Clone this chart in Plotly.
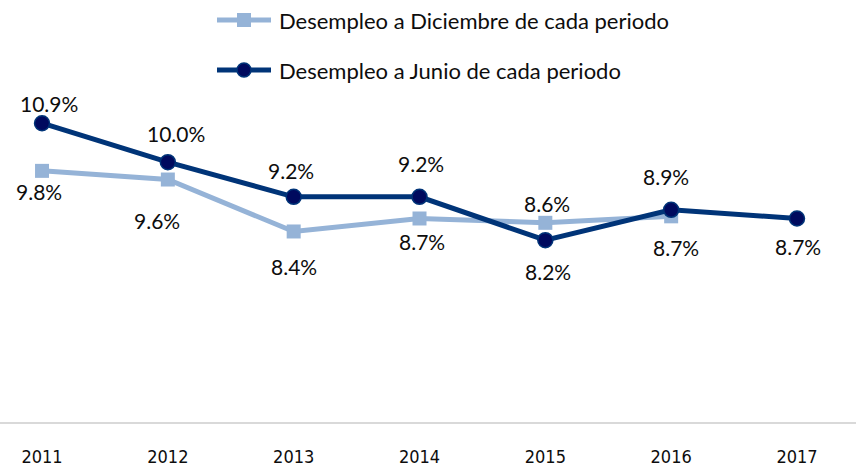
import plotly.graph_objects as go

years = ["2011", "2012", "2013", "2014", "2015", "2016", "2017"]
dic_years = ["2011", "2012", "2013", "2014", "2015", "2016"]
dic_values = [9.8, 9.6, 8.4, 8.7, 8.6, 8.75]
dic_labels = ["9.8%", "9.6%", "8.4%", "8.7%", "8.6%", "8.7%"]
jun_values = [10.9, 10.0, 9.2, 9.2, 8.2, 8.9, 8.7]
jun_labels = ["10.9%", "10.0%", "9.2%", "9.2%", "8.2%", "8.9%", "8.7%"]
dic_name = "Desempleo a Diciembre de cada periodo"
jun_name = "Desempleo a Junio de cada periodo"

# label offsets in pixels (style)
dic_shift = [(-3, -21), (-11, -41), (0, -35), (2, -23), (2, 19), (5, -31)]
jun_shift = [(7, 20), (8, 29), (-3, 26), (1, 33), (3, -31), (-5, 33), (1, -28)]

LIGHT = "#95b3d7"
DARK = "#003478"
DARK_FILL = "#000a5e"
FONT = "Lato"
TICKFONT = "'Liberation Sans Narrow', 'DejaVu Sans Condensed', 'Arial Narrow', sans-serif"
TXT = "#0d0d0d"

W, H = 856, 469
PLOT_H = 422  # plot area height (t=0)

fig = go.Figure()
fig.add_trace(go.Scatter(
    x=dic_years, y=dic_values, mode="lines+markers", name=dic_name,
    line=dict(color=LIGHT, width=5),
    marker=dict(symbol="square", size=14, color=LIGHT),
    showlegend=False, cliponaxis=False,
))
fig.add_trace(go.Scatter(
    x=years, y=jun_values, mode="lines+markers", name=jun_name,
    line=dict(color=DARK, width=5),
    marker=dict(symbol="circle", size=15, color=DARK_FILL, line=dict(color=DARK, width=1.5)),
    showlegend=False, cliponaxis=False,
))

for i, (v, t, (dx, dy)) in enumerate(zip(dic_values, dic_labels, dic_shift)):
    fig.add_annotation(x=i, y=v, xref="x", yref="y", text=t, showarrow=False,
                       xshift=dx, yshift=dy, font=dict(family=FONT, size=21, color=TXT))
for i, (v, t, (dx, dy)) in enumerate(zip(jun_values, jun_labels, jun_shift)):
    fig.add_annotation(x=i, y=v, xref="x", yref="y", text=t, showarrow=False,
                       xshift=dx, yshift=dy, font=dict(family=FONT, size=21, color=TXT))

# manual legend
def py(ypx):
    return 1 - ypx / PLOT_H

legend_items = [
    (dic_name, 20, LIGHT, LIGHT, "rect"),
    (jun_name, 70, DARK, DARK_FILL, "circle"),
]
for name, ypx, lc, fc, sym in legend_items:
    fig.add_shape(type="line", xref="paper", yref="paper",
                  x0=217 / W, x1=271 / W, y0=py(ypx), y1=py(ypx),
                  line=dict(color=lc, width=5))
    fig.add_shape(type=sym, xref="paper", yref="paper",
                  xsizemode="pixel", ysizemode="pixel",
                  xanchor=244 / W, yanchor=py(ypx),
                  x0=-7, x1=7, y0=-7, y1=7,
                  fillcolor=fc, line=dict(color=lc, width=1.5 if sym == "circle" else 0))
    fig.add_annotation(xref="paper", yref="paper", x=277 / W, y=py(ypx),
                       xanchor="left", yanchor="middle", text=name, showarrow=False,
                       font=dict(family=FONT, size=22, color=TXT))

fig.update_layout(
    width=W, height=H,
    margin=dict(l=0, r=0, t=0, b=H - PLOT_H),
    paper_bgcolor="white", plot_bgcolor="white",
    showlegend=False,
    xaxis=dict(type="category", categoryorder="array", categoryarray=years,
               range=[-0.334, 6.469], showgrid=False, showline=True,
               linecolor="#d9d9d9", linewidth=2, ticks="", automargin=False,
               ticklabelstandoff=17,
               tickfont=dict(family=TICKFONT, size=18, color=TXT)),
    yaxis=dict(range=[4, 4 + PLOT_H / 43.3], visible=False, showgrid=False,
               zeroline=False, automargin=False),
)

fig.write_html("out.html", config={"displayModeBar": False},
               post_script="document.body.style.margin='0';document.body.style.overflow='hidden';")
